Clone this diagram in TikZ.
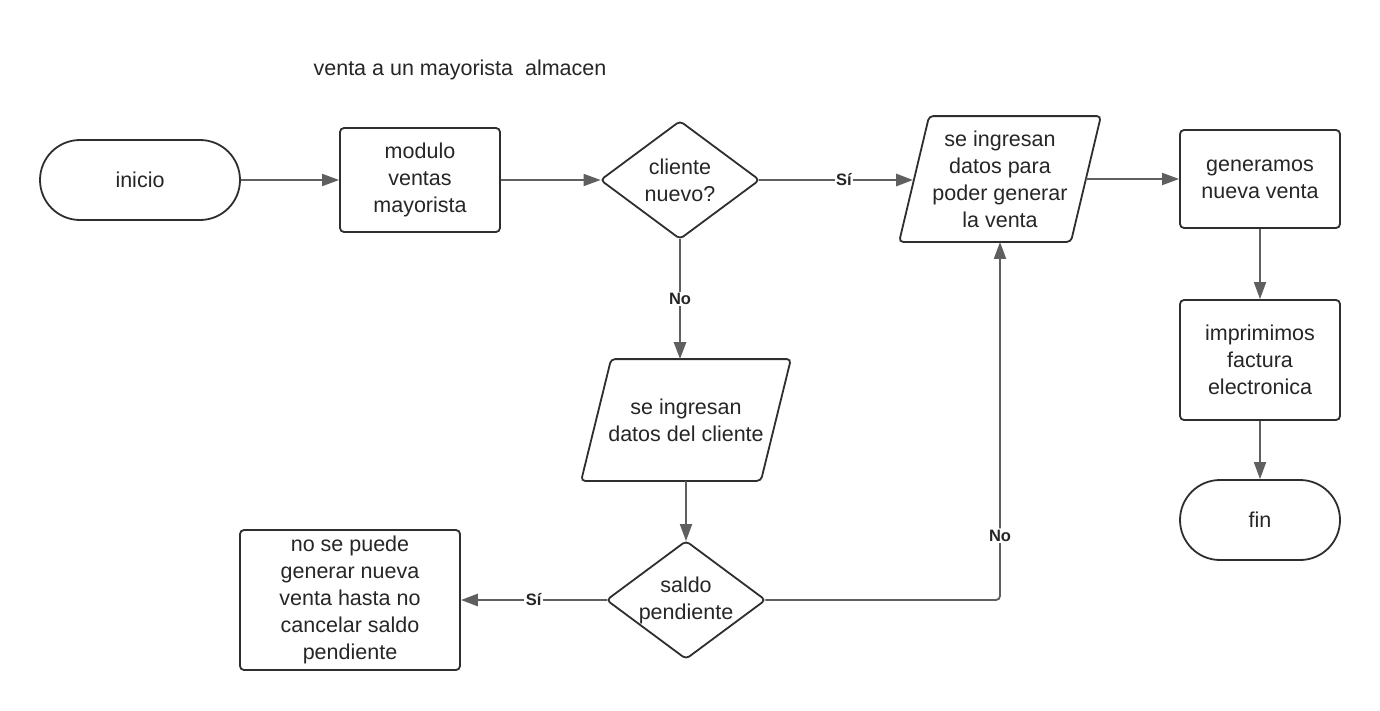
\documentclass[tikz,border=0pt]{standalone}
\usepackage{fontspec}
\setmainfont{Liberation Sans}
\usetikzlibrary{shapes.geometric,shapes.misc,arrows.meta,calc}
\definecolor{bordc}{HTML}{2E2E2E}
\definecolor{linec}{HTML}{5F5F5F}
\definecolor{textc}{HTML}{262626}
\begin{document}
\begin{tikzpicture}[x=1pt,y=-1pt,
  base/.style={draw=bordc, line width=1.8pt, align=center, text=textc,
    font=\fontsize{21.5}{27}\selectfont, inner sep=0pt},
  proc/.style={base, rectangle, rounded corners=4pt},
  term/.style={base, rounded rectangle, minimum height=80pt},
  dec/.style={base, draw=none, rectangle, minimum width=157pt, minimum height=116pt},
  io/.style={base, draw=none, rectangle},
  outline/.style={draw=bordc, line width=1.8pt, rounded corners=4pt},
  conn/.style={draw=linec, line width=1.8pt, -{Triangle[length=17pt,width=12pt]}},
  thick conn/.style={conn, line width=2.8pt},
  lbl/.style={fill=white, inner sep=1.5pt, text=textc, font=\fontsize{16.5}{18}\selectfont\bfseries}
]
\useasboundingbox[fill=white] (0,0) rectangle (1380,710);

\node[text=textc, font=\fontsize{21.5}{24}\selectfont] (title) at (460,70) {venta a un mayorista\ \ almacen};

\node[term, minimum width=200pt] (inicio) at (140,180) {inicio};
\node[proc, minimum width=160pt, minimum height=104pt] (modulo) at (420,180) {modulo\\ventas\\mayorista};
\node[dec] (cliente) at (680,180) {cliente\\nuevo?};
\draw[outline] (cliente.west) -- (cliente.north) -- (cliente.east) -- (cliente.south) -- cycle;
\node[io, minimum width=200pt, minimum height=124pt] (paraTop) at (1000,179) {se ingresan\\datos para\\poder generar\\la venta};
\draw[outline] (paraTop.south west) -- ($(paraTop.north west)+(30,0)$) -- (paraTop.north east) -- ($(paraTop.south east)-(30,0)$) -- cycle;
\node[proc, minimum width=160pt, minimum height=98pt] (genera) at (1260,179) {generamos\\nueva venta};
\node[proc, minimum width=160pt, minimum height=120pt] (imprime) at (1260,360) {imprimimos\\factura\\electronica};
\node[term, minimum width=160pt] (fin) at (1260,520) {fin};
\node[io, minimum width=208pt, minimum height=120pt] (paraLow) at (686,420) {se ingresan\\datos del cliente};
\draw[outline] (paraLow.south west) -- ($(paraLow.north west)+(30,0)$) -- (paraLow.north east) -- ($(paraLow.south east)-(30,0)$) -- cycle;
\node[dec] (saldo) at (686,600) {saldo\\pendiente};
\draw[outline] (saldo.west) -- (saldo.north) -- (saldo.east) -- (saldo.south) -- cycle;
\node[proc, minimum width=220pt, minimum height=140pt] (nose) at (350,600) {no se puede\\generar nueva\\venta hasta no\\cancelar saldo\\pendiente};

\draw[conn] (inicio) -- (modulo);
\draw[conn] (modulo) -- (cliente);
\draw[thick conn] (cliente.east) -- node[lbl, pos=0.55] {Sí} ([xshift=14pt]paraTop.west |- cliente.east);
\draw[conn] ([xshift=-15pt]paraTop.east) -- (genera.west);
\draw[conn] (genera) -- (imprime);
\draw[conn] (imprime) -- (fin);
\draw[thick conn] (cliente.south) -- node[lbl] {No} (cliente.south |- paraLow.north);
\draw[conn] (paraLow.south) -- (saldo.north);
\draw[thick conn] (saldo.west) -- node[lbl] {Sí} (nose.east);
\draw[conn, rounded corners=4pt] (saldo.east) -| node[lbl, pos=0.59] {No} (paraTop.south);
\end{tikzpicture}
\end{document}
